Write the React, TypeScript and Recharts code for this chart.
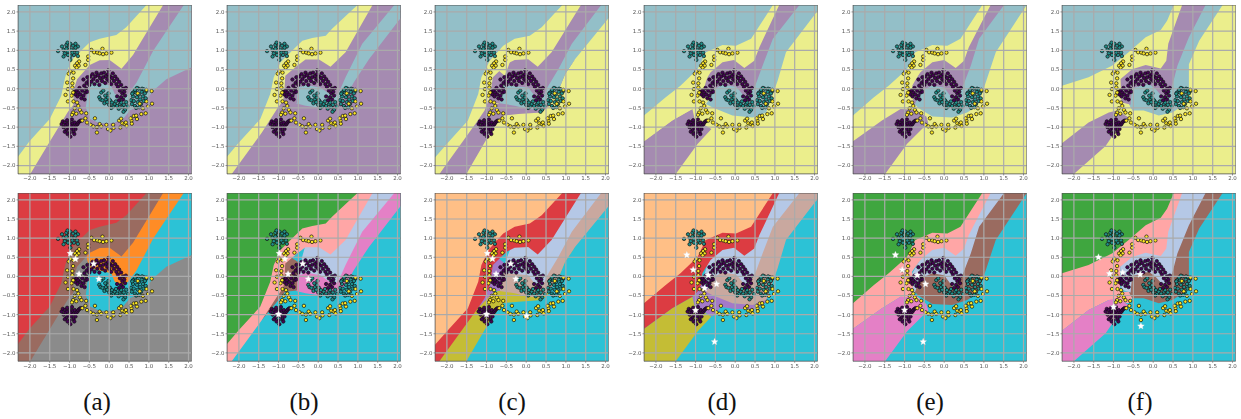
import React from "react";
import { ScatterChart, Scatter, XAxis, YAxis } from "recharts";

type Pt = [number, number];

const captions = ["(a)", "(b)", "(c)", "(d)", "(e)", "(f)"];
const captionCenters = [97, 304, 512, 722, 930, 1140];
const xMin = -2.3, xMax = 2.08, yMin = -2.22, yMax = 2.18;
const tickValues = [-2, -1.5, -1, -0.5, 0, 0.5, 1, 1.5, 2];
const panelLefts = [18.3, 227, 435.3, 644, 852.7, 1061.7];

const yellowPts: Pt[] = [
  [-.45,1.01],[-.38,.95],[-.3,.94],[-.24,.92],[-.17,1.04],[-.155,.9],[-.07,.92],[.055,.94],[-.53,.84],[-.53,.75],[-.6,.62],[-.76,.71],[-.81,.66],[-.86,.6],[-.77,.6],[-.82,.55],
  [-.9,.42],[-.98,.46],[-1.02,.39],[-.91,.27],[-1.06,.16],[-.93,.14],[-1.04,-.01],[-.93,.03],[-.91,-.1],[-1.1,-.16],[-.95,-.18],[-1.04,-.33],[-.9,-.33],[-.81,-.36],[-.78,-.45],[-.87,-.51],[-.74,-.55],[-.91,-.62],[-.94,-.68],[-.7,-.62],[-.83,-.65],[-.58,-.64],[-.6,-.77],[-.68,-.83],[-.56,-.88],[-.47,-.94],
  [-.36,-.77],[-.4,-.98],[-.31,-1.0],[-.24,-.92],[-.31,-1.14],[-.07,-.94],[-.2,-.98],[-.03,-1.05],[.03,-1.09],[.1,-.94],[.11,-1.02],[.25,-.83],[.28,-1.01],[.33,-.9],[.39,-.92],[.42,-.88],[.44,-.97],[.56,-.83],[.54,-.77],[.57,-.91],[.62,-.71],[.7,-.79],[.81,-.66],[.92,-.64],[.85,-.51],[.98,-.46],[1.08,-.39],[.94,-.33],[.77,-.39],[1.07,-.06],[.94,-.03],[.72,-.12],[.68,-.7],[.3,-.78],
];
const tealPts: Pt[] = [
  [-1.29,.98],[-1.19,1.1],[-1.15,1.01],[-1.12,.92],[-1.15,.84],[-1.08,1.14],[-1.05,1.2],[-1.01,1.08],[-.98,1.17],[-.95,1.01],[-1.04,.97],[-1.08,1.04],[-.91,1.12],[-.85,1.17],[-.79,1.1],[-.87,1.01],[-.81,.94],[-.89,.88],[-.98,.85],[-.98,.75],[-.79,.85],[-.93,.94],[-1.04,.88],[-.85,1.07],
  [-.25,-.22],[-.2,-.1],[-.22,-.28],[-.15,-.05],[-.1,-.18],[-.17,-.3],[-.08,-.28],[-.12,-.38],[-.02,-.12],[-.03,-.23],[-.05,-.35],[0,-.42],[.02,-.3],[.07,-.36],[.1,-.46],[.05,-.5],[.14,-.4],[.17,-.33],[.2,-.45],[.24,-.52],[.27,-.4],[.3,-.36],[.33,-.48],[.37,-.42],[.4,-.55],[.43,-.35],[.47,-.46],[.36,-.6],
  [.55,-.3],[.57,-.4],[.6,-.2],[.62,-.32],[.65,-.45],[.67,-.1],[.7,-.22],[.72,-.35],[.74,0],[.75,-.15],[.78,-.28],[.8,-.4],[.82,-.08],[.85,-.2],[.87,-.32],[.9,-.12],[.92,-.25],[.95,-.05],[.7,.02],[.65,-.03],[.6,-.1],[.68,-.5],[.76,-.48],[.58,-.13],[.83,0],[.88,-.02],
];
const purplePts: Pt[] = [
  [-.88,-.08],[-.85,-.15],[-.82,-.05],[-.8,-.2],[-.78,-.1],[-.75,.02],[-.73,-.15],[-.7,-.25],[-.68,-.05],[-.65,-.18],[-.63,.08],[-.62,-.28],[-.6,-.1],[-.58,0],[-.57,.15],[-.55,-.08],[-.52,.2],[-.5,.1],[-.55,.3],[-.48,.32],[-.45,.18],[-.42,.38],[-.4,.25],[-.37,.12],[-.35,.32],[-.32,.42],[-.3,.2],[-.28,.35],[-.25,.1],[-.23,.28],[-.2,.4],[-.18,.2],[-.15,.3],[-.13,.42],[-.1,.15],[-.08,.33],[-.05,.25],[-.03,.38],[-.02,.48],[0,.2],[.02,.32],[.05,.12],[.07,.28],[.09,.4],[.12,.2],[.15,.32],[.18,.12],[.2,.25],[.22,.05],[.25,.18],[.27,-.05],[.3,.1],[.33,-.12],[.35,0],[.38,-.08],[.4,-.18],[.3,-.22],[.25,-.3],[.2,-.2],[.35,-.28],[.42,.02],[-.65,.24],
  [-1.2,-.92],[-1.17,-.85],[-1.15,-1.0],[-1.12,-.88],[-1.1,-.95],[-1.08,-1.08],[-1.06,-.82],[-1.05,-.92],[-1.03,-1.02],[-1.0,-.88],[-1.0,-1.15],[-.98,-1.25],[-.97,-.95],[-.95,-1.05],[-.94,-.8],[-.92,-.9],[-.9,-.98],[-.9,-1.12],[-.87,-.88],[-.85,-1.05],[-.83,-.95],[-.8,-.92],[-.78,-.88],[-.75,-.85],[-.72,-.83],[-.88,-1.18],[-1.12,-1.12],[-1.05,-1.18],
];

const starsA: Pt[] = [[-.98,.6],[-.85,.45],[-.76,.06],[-.39,.33],[-.26,-.07]];
const starsB: Pt[] = [[-.98,.6],[-.84,.45],[-.76,.06],[-.39,.33],[-.25,-.07],[-1,-.99]];
const starsC: Pt[] = [[-.98,.6],[-.85,.46],[-.76,.06],[-.39,.33],[-.26,-.07],[-1,-.99],[.01,-1.03]];
const starsD: Pt[] = [[-1.22,.56],[-1.06,.17],[-.68,.03],[-.47,-.2],[-.77,-.31],[-1,-.89],[-.52,-1.71]];
const starsE: Pt[] = [[-1.23,.56],[-1.06,.17],[-.68,.03],[-.47,-.2],[-1,-.88],[-.53,-1.71]];
const starsF: Pt[] = [[-1.38,.5],[-1.1,.07],[-.77,.1],[-.33,.05],[-1,-.8],[-.31,-1.3]];

// colours of the two rows
const T = "#93bfc8", Y = "#ebee8c", V = "#a58bb1";
const RED = "#dc3c42", BROWNL = "#9a6b60", ORANGE = "#ff8c26", CYAN = "#2cc2d6", GRAY = "#8b8b8b";
const GREEN = "#3fa63f", PINK = "#ffa6a6", LBLUE = "#b5c8e6", MAGENTA = "#e480c6", LBROWN = "#c9a89f", LORANGE = "#ffbf86", OLIVE = "#c4bd35", VIOLET = "#a479c8";

const full: Pt[] = [[xMin,yMin],[xMax,yMin],[xMax,yMax],[xMin,yMax]];

// panel (a)
const aCyan: Pt[] = [[xMax,yMax],[xMax,.56],[1.44,.25],[1.11,-.05],[.85,-.4],[.52,-.57],[.35,-.79],[.1,-.9],[-.24,-.9],[-.48,-.79],[-.59,-.49],[-.53,-.01],[-.49,.21],[-.4,.5],[.5,1.2],[1.5,yMax]];
const aOrange: Pt[] = [[1.88,yMax],[1.11,.99],[.69,.16],[.48,-.14],[.35,-.23],[.14,-.14],[.05,.08],[-.49,.21],[-.56,.45],[-.6,1],[1,yMax]];
const aBrown: Pt[] = [[-1.99,yMin],[-1.5,-1.38],[-1.04,-.6],[-.9,-.42],[-.9,-.03],[-.81,.25],[-.49,.62],[-.24,.74],[.01,.75],[.31,.52],[.6,.88],[1.36,yMax],[xMin,yMax],[xMin,yMin]];
const aRed: Pt[] = [[xMin,-1.77],[-2.01,-1.37],[-1.5,-.79],[-1.21,-.18],[-1.11,.3],[-.96,.73],[-.75,.95],[-.49,1.21],[-.24,1.3],[.18,1.4],[.43,1.6],[.94,yMax],[xMin,yMax]];

// panel (b)
const bViolet: Pt[] = [[xMax,1.84],[1.28,.77],[.9,.17],[.69,-.23],[.35,-.47],[.02,-.49],[-.32,-.44],[-.56,-.38],[-.53,.1],[1.2,yMax],[xMax,yMax]];
const bBlue: Pt[] = [[1.92,yMax],[1.11,1.17],[.69,.3],[.52,-.1],[.4,-.23],[.06,.03],[-.32,.1],[-.45,.03],[-.45,.34],[-.3,.9],[1,yMax]];
const bBrown: Pt[] = [[-1.42,-1.14],[-.83,-.4],[-.53,-.37],[-.53,-.05],[-.45,.34],[-.83,.6],[-1.2,0]];
const bPink: Pt[] = [[-2.18,yMin],[-1.42,-1.14],[-1.04,-.53],[-.88,-.3],[-.85,0],[-.83,.34],[-.53,.6],[-.32,.76],[.02,.76],[.31,.57],[.69,.95],[1.37,yMax],[xMin,yMax],[xMin,yMin]];
const bGreen: Pt[] = [[xMin,-1.77],[-2,-1.4],[-1.46,-.79],[-1.21,-.14],[-1.12,.3],[-.95,.69],[-.66,.99],[-.4,1.25],[-.15,1.32],[.19,1.38],[.35,1.56],[.99,yMax],[xMin,yMax]];

// panel (c)
const cSliver: Pt[] = [[1.23,.77],[.98,.38],[.81,-.05],[.78,-.05],[.93,.4]];
const cOlive: Pt[] = [[-2.19,yMin],[-1.51,yMin],[-.88,-1.1],[-.58,-.7],[-.2,-.66],[.39,-.62],[.6,-.42],[.39,-.45],[-.5,-.3],[-1.22,-.6]];
const cBrown: Pt[] = [[xMax,1.84],[1.23,.77],[.98,.38],[.81,-.05],[.56,-.4],[.39,-.55],[.05,-.53],[-.29,-.44],[-.67,-.38],[-.61,-.14],[-.54,.34],[1,yMax],[xMax,yMax]];
const cBlue: Pt[] = [[1.89,yMax],[1.15,1.17],[.81,.51],[.51,-.01],[.43,-.23],[.35,-.27],[.18,-.14],[.05,.03],[-.46,.08],[-.54,.34],[-.3,1],[1,yMax]];
const cViolet: Pt[] = [[-1.22,-.83],[-.79,-.38],[-.67,-.38],[-.61,-.14],[-.54,.34],[-.84,.6],[-1.3,0]];
const cRed: Pt[] = [[-2.19,yMin],[-1.22,-.83],[-1.05,-.57],[-.92,-.23],[-.84,.3],[-.5,.64],[-.29,.75],[.05,.77],[.29,.57],[.64,.95],[1.38,yMax],[xMin,yMax],[xMin,yMin]];
const cOrange: Pt[] = [[xMin,-1.79],[-1.97,-1.4],[-1.47,-.83],[-1.21,-.14],[-1.13,.3],[-.92,.73],[-.58,1.12],[-.29,1.3],[.09,1.38],[.39,1.6],[.91,yMax],[xMin,yMax]];

// panel (d)
const dViolet: Pt[] = [[-1.08,-.53],[-.95,-.4],[-.85,-.2],[-.62,-.35],[-.57,-.45],[-.05,-.7],[.45,-.72],[.85,-.44],[.75,-.7],[.5,-.85],[0,-.85],[-.36,-.8],[-.57,-1.05],[-1.02,-.8]];
const dOlive: Pt[] = [[xMin,-1.37],[-1.59,-.83],[-1.08,-.53],[-1.02,-.8],[-.6,-1.05],[-.95,-1.44],[-1.5,yMin],[xMin,yMin]];
const dBrown: Pt[] = [[xMax,2.03],[1.28,.95],[1.07,.21],[.86,-.4],[.78,-.62],[.44,-.75],[-.07,-.7],[-.57,-.49],[-.74,-.4],[-.62,-.23],[-.6,0],[1,yMax],[xMax,yMax]];
const dBlue: Pt[] = [[1.62,yMax],[.95,1.3],[.69,.6],[.52,.12],[.4,-.1],[.27,-.27],[.15,-.1],[.02,.05],[-.32,.1],[-.57,-.03],[-.7,-.25],[-.85,-.2],[-.5,1],[1,yMax]];
const dRed: Pt[] = [[xMin,-1.37],[-1.59,-.83],[-1.08,-.53],[-.95,-.4],[-.85,-.2],[-.83,.08],[-.62,.43],[-.32,.69],[-.03,.75],[.23,.54],[.48,.73],[.61,1.08],[1.11,yMax],[xMin,yMax]];
const dOrange: Pt[] = [[xMin,-.7],[-1.76,-.23],[-1.38,.08],[-.95,.51],[-.74,.95],[-.32,1.14],[.02,1.12],[.4,1.3],[.95,yMax],[xMin,yMax]];

// panel (e)
const eBrown: Pt[] = [[xMax,yMax],[1.3,.95],[1.05,.17],[.84,-.44],[.58,-.62],[.2,-.75],[-.3,-.72],[-.65,-.5],[-.75,-.4],[-.6,-.05],[0,1],[1.2,yMax]];
const eBlue: Pt[] = [[1.51,yMax],[.88,1.3],[.67,.6],[.46,.03],[.33,-.18],[.24,-.31],[0,.03],[-.3,.08],[-.6,-.05],[-.77,-.49],[-.85,0],[-.3,1],[1,yMax]];
const ePink: Pt[] = [[xMin,-1.37],[-1.57,-.83],[-1.1,-.53],[-.75,-.55],[-.45,-.72],[-.78,-.45],[-.81,.12],[-.6,.43],[-.3,.69],[0,.75],[.29,.54],[.5,.73],[.62,1.08],[1.17,yMax],[xMin,yMax]];
const eMagenta: Pt[] = [[xMin,-1.37],[-1.57,-.83],[-1.1,-.53],[-.75,-.55],[-.45,-.72],[-.4,-.9],[-.56,-1.05],[-.94,-1.44],[-1.49,yMin],[xMin,yMin]];
const eGreen: Pt[] = [[xMin,-.7],[-1.78,-.23],[-1.4,.08],[-.94,.51],[-.73,.95],[-.3,1.14],[.08,1.12],[.41,1.3],[.96,yMax],[xMin,yMax]];

// panel (f)
const fBrown: Pt[] = [[1.75,yMax],[1.16,1.25],[.9,.64],[.9,.03],[.82,-.4],[.48,-.62],[.14,-.7],[-.24,-.57],[-.53,-.57],[-.62,-.4],[-.4,.5],[.7,yMax]];
const fBlue: Pt[] = [[1.32,yMax],[.9,1.34],[.61,.6],[.48,.08],[.31,-.31],[.18,-.15],[.06,-.01],[-.11,.12],[-.53,.01],[-.57,-.42],[-.8,-.35],[-.83,.25],[-.3,1],[.7,yMax]];
const fPink: Pt[] = [[xMin,-1.42],[-1.63,-.88],[-1.12,-.62],[-.62,-.7],[-.53,-.57],[-.62,-.4],[-.83,-.4],[-.83,.25],[-.53,.51],[-.19,.62],[.19,.53],[.33,.73],[.38,1.17],[.73,yMax],[xMin,yMax]];
const fMagenta: Pt[] = [[xMin,-1.42],[-1.63,-.88],[-1.12,-.62],[-.91,-.57],[-.62,-.75],[-.91,-1.05],[-1.2,-1.49],[-2,yMin],[xMin,yMin]];
const fGreen: Pt[] = [[xMin,.08],[-1.63,.3],[-1.04,.6],[-.62,.95],[-.19,1.34],[.19,1.53],[.35,1.77],[.52,yMax],[xMin,yMax]];

type Layer = { pts: Pt[]; top: string; bottom: string };
const layerA: Layer[] = [
  { pts: full, top: V, bottom: GRAY }, { pts: aCyan, top: T, bottom: CYAN }, { pts: aOrange, top: V, bottom: ORANGE },
  { pts: aBrown, top: Y, bottom: BROWNL }, { pts: aRed, top: T, bottom: RED },
];
const layerB: Layer[] = [
  { pts: full, top: V, bottom: CYAN }, { pts: bViolet, top: T, bottom: MAGENTA }, { pts: bBlue, top: V, bottom: LBLUE },
  { pts: bBrown, top: V, bottom: BROWNL }, { pts: bPink, top: Y, bottom: PINK }, { pts: bGreen, top: T, bottom: GREEN },
];
const layerC: Layer[] = [
  { pts: full, top: Y, bottom: CYAN }, { pts: cSliver, top: V, bottom: OLIVE }, { pts: cOlive, top: V, bottom: OLIVE },
  { pts: cBrown, top: T, bottom: LBROWN }, { pts: cBlue, top: V, bottom: LBLUE }, { pts: cViolet, top: V, bottom: VIOLET },
  { pts: cRed, top: Y, bottom: RED }, { pts: cOrange, top: T, bottom: LORANGE },
];
const layerD: Layer[] = [
  { pts: full, top: Y, bottom: CYAN }, { pts: dViolet, top: Y, bottom: VIOLET }, { pts: dOlive, top: V, bottom: OLIVE },
  { pts: dBrown, top: T, bottom: LBROWN }, { pts: dBlue, top: V, bottom: LBLUE }, { pts: dRed, top: Y, bottom: RED }, { pts: dOrange, top: T, bottom: LORANGE },
];
const layerE: Layer[] = [
  { pts: full, top: Y, bottom: CYAN }, { pts: eBrown, top: T, bottom: BROWNL }, { pts: eBlue, top: V, bottom: LBLUE },
  { pts: ePink, top: Y, bottom: PINK }, { pts: eMagenta, top: V, bottom: MAGENTA }, { pts: eGreen, top: T, bottom: GREEN },
];
const layerF: Layer[] = [
  { pts: full, top: Y, bottom: CYAN }, { pts: fBrown, top: T, bottom: BROWNL }, { pts: fBlue, top: V, bottom: LBLUE },
  { pts: fPink, top: Y, bottom: PINK }, { pts: fMagenta, top: V, bottom: MAGENTA }, { pts: fGreen, top: T, bottom: GREEN },
];
const allLayers = [layerA, layerB, layerC, layerD, layerE, layerF];
const allStars = [starsA, starsB, starsC, starsD, starsE, starsF];

const toRows = (pts: Pt[]) => pts.map(([x, y]) => ({ x, y }));
const fmt = (v: number) => (v < 0 ? "\u2212" : "") + Math.abs(v).toFixed(1);

const dot = (fill: string) => (p: any) => (
  <circle cx={p.cx} cy={p.cy} r={1.7} fill={fill} stroke="#111" strokeWidth={0.7} />
);
const nothing = () => <g />;
const star = (p: any) => {
  const pts: string[] = [];
  for (let i = 0; i < 10; i++) {
    const r = i % 2 === 0 ? 3.6 : 1.7;
    const a = -Math.PI / 2 + (i * Math.PI) / 5;
    pts.push(`${p.cx + r * Math.cos(a)},${p.cy + r * Math.sin(a)}`);
  }
  return <polygon points={pts.join(" ")} fill="#fff" stroke="#ddd" strokeWidth={0.3} />;
};

const PLOT_W = 173.7;
const AXIS_W = 18;
const AXIS_H = 12;
const M_TOP = 2;
const M_RIGHT = 3;

function Panel({ index, row, top, height }: { index: number; row: "top" | "bottom"; top: number; height: number }) {
  const left = panelLefts[index];
  return (
    <div style={{ position: "absolute", left: left - AXIS_W, top: top - M_TOP }}>
      <ScatterChart
        width={AXIS_W + PLOT_W + M_RIGHT}
        height={M_TOP + height + AXIS_H}
        margin={{ top: M_TOP, right: M_RIGHT, bottom: 0, left: 0 }}
      >
        <XAxis
          type="number" dataKey="x" domain={[xMin, xMax]} ticks={tickValues} allowDataOverflow
          height={AXIS_H} tickSize={1.5} tickMargin={1} interval={0} tickFormatter={fmt}
          tick={{ fontSize: 5.5, fill: "#555", fontFamily: "DejaVu Sans" }} stroke="#555" strokeWidth={0.6}
        />
        <YAxis
          type="number" dataKey="y" domain={[yMin, yMax]} ticks={tickValues} allowDataOverflow
          width={AXIS_W} tickSize={1.5} tickMargin={1} interval={0} tickFormatter={fmt}
          tick={{ fontSize: 5.5, fill: "#555", fontFamily: "DejaVu Sans" }} stroke="#555" strokeWidth={0.6}
        />
        {allLayers[index].map((l, i) => (
          <Scatter
            key={"r" + i} data={toRows(l.pts)} isAnimationActive={false} shape={nothing}
            line={{ fill: row === "top" ? l.top : l.bottom, stroke: "none" }}
          />
        ))}
        <Scatter data={toRows(tealPts)} isAnimationActive={false} shape={dot("#21918c")} />
        <Scatter data={toRows(purplePts)} isAnimationActive={false} shape={dot("#440154")} />
        <Scatter data={toRows(yellowPts)} isAnimationActive={false} shape={dot("#fde725")} />
        {tickValues.map((t) => (
          <Scatter key={"gx" + t} data={[{ x: t, y: yMin }, { x: t, y: yMax }]} isAnimationActive={false} shape={nothing}
            line={{ stroke: "#aaaaaa", strokeWidth: 1.2, fill: "none" }} />
        ))}
        {tickValues.map((t) => (
          <Scatter key={"gy" + t} data={[{ x: xMin, y: t }, { x: xMax, y: t }]} isAnimationActive={false} shape={nothing}
            line={{ stroke: "#aaaaaa", strokeWidth: 1.2, fill: "none" }} />
        ))}
        {row === "bottom" && <Scatter data={toRows(allStars[index])} isAnimationActive={false} shape={star} />}
        <Scatter
          data={toRows([[xMin, yMin], [xMax, yMin], [xMax, yMax], [xMin, yMax], [xMin, yMin]])}
          isAnimationActive={false} shape={nothing} line={{ stroke: "#555", strokeWidth: 1, fill: "none" }}
        />
      </ScatterChart>
    </div>
  );
}

export default function App() {
  return (
    <div style={{ position: "absolute", left: 0, top: 0, width: 1241, height: 419, overflow: "hidden", background: "#fff" }}>
      <div style={{ position: "absolute", left: 0, top: 0, width: 1241, height: 380, filter: "blur(0.3px)" }}>
        {panelLefts.map((_, i) => <Panel key={"t" + i} index={i} row="top" top={5} height={169} />)}
        {panelLefts.map((_, i) => <Panel key={"b" + i} index={i} row="bottom" top={192.7} height={168.3} />)}
      </div>
      {captions.map((c, i) => (
        <div key={c} style={{ position: "absolute", left: captionCenters[i] - 40, width: 80, top: 388, textAlign: "center", fontFamily: "Liberation Serif", fontSize: 25, lineHeight: "28px", color: "#111" }}>{c}</div>
      ))}
    </div>
  );
}
